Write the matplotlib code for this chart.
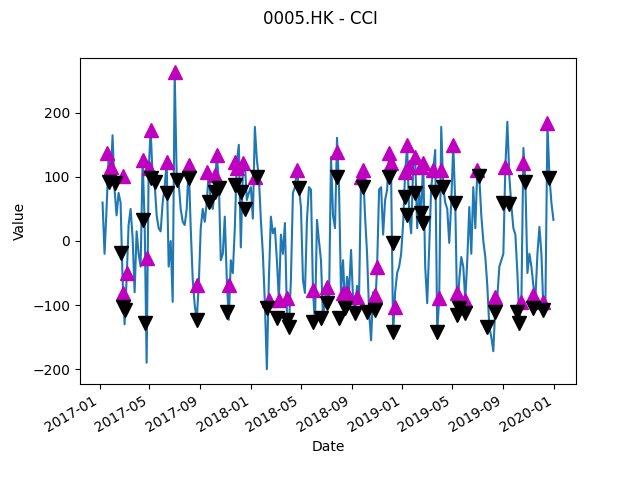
import numpy as np
import pandas as pd
import matplotlib
matplotlib.use("Agg")
import matplotlib.pyplot as plt

# CCI values (one sample every few trading days)
cci = [60, -20, 50, 130, 95, 165, 80, 40, 75, 60,
       -60, -130, -60, 25, 50, 5, -80, 15, -20, -40,
       127, 30, -190, 110, 173, 100, 90, 40, 20, 15,
       60, 85, 123, -40, 0, -95, 263, 100, 90, 50,
       30, 25, 50, 119, 20, -60, -100, -123, -69, 20,
       50, 30, 60, 108, 60, 50, 80, 134, 95, -30,
       -20, 38, -60, -123, -30, -50, 20, 123, 150, -10,
       106, 122, 64, 75, 84, 35, 178, 127, 100, 33,
       -20, -97, -200, -60, 38, 12, 20, -30, -92, 10,
       -20, 28, -113, -134, -60, 75, 84, 111, 83, 53,
       -61, -81, 33, 84, 80, -77, -128, 33, 0, -30,
       -120, -90, -72, -97, 131, 40, 20, 161, 84, -81,
       -30, -103, -56, -80, -14, -90, -113, -70, -87, 100,
       111, 38, -20, -111, -155, -80, -105, -40, 80, 84,
       10, 64, 80, 137, 100, -144, -80, -50, -40, -20,
       28, 108, 147, 41, 12, 116, 131, 20, 75, 44,
       127, -40, -97, -10, 84, 111, 142, -142, -89, 178,
       84, 60, 50, -3, 60, 150, 59, -116, -60, -25,
       -40, -92, -30, 53, -20, 84, 20, 111, 100, 40,
       0, -25, -70, -134, -150, -172, -100, -87, -40, -30,
       -20, 116, 186, 100, 55, 20, 10, -50, -125, -95,
       145, 92, -50, -20, -40, -70, -90, -20, 22, -20,
       -108, -95, 184, 100, 59, 33]

dates = pd.date_range("2017-01-08", "2019-12-31", periods=len(cci))

# signal markers: position in the series and CCI value
up_idx = [2, 4, 10, 12, 10, 20, 22, 23, 24, 32, 36, 43, 47, 52, 56, 57, 63,
          66, 67, 70, 76, 83, 88, 92, 97, 105, 112, 117, 120, 122, 127, 129,
          130, 136, 137, 143, 144, 146, 151, 152, 153, 156, 159, 160, 165,
          168, 169, 175, 177, 181, 187, 196, 201, 209, 210, 215, 220, 222]
up_val = [137, 116, 102, -50, -81, 127, -27, 114, 173, 123, 263, 119, -69,
          108, 103, 134, -69, 123, 114, 122, 100, -92, -92, -89, 111, -77,
          -72, 139, -81, -81, -87, 100, 111, -84, -40, 137, 122, -103, 108,
          150, 116, 131, 116, 122, 111, -89, 111, 150, -81, -92, 111, -87,
          116, -95, 122, -84, -95, 184]

down_idx = [3, 6, 9, 10, 11, 20, 21, 24, 26, 32, 37, 43, 47, 53, 56, 58, 62,
            66, 69, 71, 77, 82, 87, 92, 93, 98, 105, 109, 112, 117, 118, 121,
            126, 130, 132, 136, 143, 145, 145, 151, 152, 156, 159, 160, 166,
            167, 170, 176, 177, 178, 181, 188, 192, 196, 200, 203, 207, 208,
            211, 215, 220, 223]
down_val = [92, 91, -19, -103, -108, 33, -128, 98, 92, 75, 95, 98, -123, 61,
            77, 83, -111, 88, 77, 50, 100, -105, -120, -123, -134, 83, -127,
            -120, -97, 100, -120, -105, -113, 84, -111, -107, 100, -3, -142,
            69, 41, 75, 44, 28, 77, -142, 84, 59, -116, -105, -113, 102, -134,
            -111, 60, 57, -111, -128, 92, -105, -108, 99]

fig, ax = plt.subplots(figsize=(6.4, 4.8), dpi=100)
fig.suptitle("0005.HK - CCI")
ax.plot(dates, cci)
ax.plot(dates[up_idx], up_val, "^", color="m", markersize=10)
ax.plot(dates[down_idx], down_val, "v", color="k", markersize=10)
ax.set_xlabel("Date")
ax.set_ylabel("Value")
fig.autofmt_xdate()
fig.savefig("out.png")
